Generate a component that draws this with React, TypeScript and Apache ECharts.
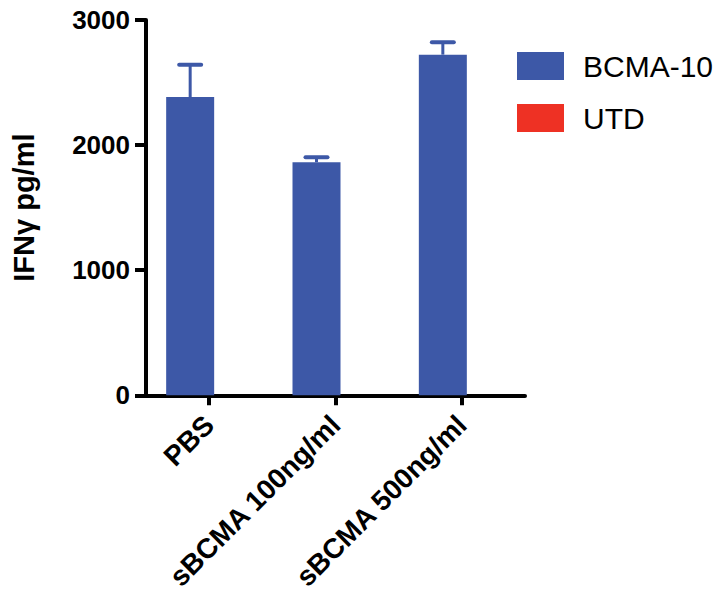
import React, { useEffect, useRef } from "react";
import * as echarts from "echarts";

const categories = ["PBS", "sBCMA 100ng/ml", "sBCMA 500ng/ml"];
const bcmaValues = [2384, 1863, 2723];
const bcmaErrors = [259, 40, 99];
const utdValues = [0, 0, 0];
const yTicks = [0, 1000, 2000, 3000];

const BLUE = "#3d58a7";
const RED = "#ee3124";
const BAR_W = 48;
const BAR_GAP_PX = -10;

export default function App() {
  const ref = useRef<HTMLDivElement>(null);
  useEffect(() => {
    if (!ref.current) return;
    const chart = echarts.init(ref.current, undefined, { renderer: "svg" });
    const errData = bcmaValues.map((v, i) => [i, v, v + bcmaErrors[i]]);
    const font = "'Liberation Sans', Arial, Helvetica, sans-serif";
    chart.setOption({
      animation: false,
      backgroundColor: "#ffffff",
      grid: { left: 146, top: 20, width: 379, height: 377, containLabel: false },
      legend: {
        orient: "vertical",
        left: 512,
        top: 46,
        itemWidth: 47,
        itemHeight: 28,
        itemGap: 22,
        icon: "rect",
        data: ["BCMA-10", "UTD"],
        textStyle: { fontFamily: font, fontSize: 30, color: "#000", lineHeight: 28, padding: [0, 0, 0, 14] },
      },
      xAxis: {
        type: "category",
        data: categories,
        axisLine: { show: true, lineStyle: { color: "#000", width: 4 } },
        axisTick: { show: true, alignWithLabel: true, length: 10, lineStyle: { color: "#000", width: 4 } },
        axisLabel: {
          rotate: 45,
          margin: 25,
          interval: 0,
          fontFamily: font,
          fontWeight: "bold",
          fontSize: 28,
          color: "#000",
        },
      },
      yAxis: {
        type: "value",
        min: 0,
        max: 3000,
        interval: 1000,
        splitLine: { show: false },
        axisLine: { show: true, lineStyle: { color: "#000", width: 4 } },
        axisTick: { show: true, length: 11, lineStyle: { color: "#000", width: 4 } },
        axisLabel: {
          margin: 16,
          fontFamily: font,
          fontWeight: "bold",
          fontSize: 26,
          color: "#000",
          formatter: (v: number) => (yTicks.includes(v) ? String(v) : ""),
        },
        name: "IFNγ pg/ml",
        nameLocation: "middle",
        nameGap: 108,
        nameRotate: 90,
        nameTextStyle: { fontFamily: font, fontWeight: "bold", fontSize: 29, color: "#000" },
      },
      series: [
        {
          name: "BCMA-10",
          type: "bar",
          data: bcmaValues,
          barWidth: BAR_W,
          barGap: `${(BAR_GAP_PX / BAR_W) * 100}%`,
          itemStyle: { color: BLUE },
        },
        {
          name: "UTD",
          type: "bar",
          data: utdValues,
          barWidth: BAR_W,
          itemStyle: { color: RED },
        },
        {
          name: "err",
          type: "custom",
          data: errData,
          encode: { x: 0, y: [1, 2] },
          z: 3,
          renderItem: (params: any, api: any) => {
            const idx = api.value(0);
            const mean = api.value(1);
            const high = api.value(2);
            const total = 2 * BAR_W + BAR_GAP_PX;
            const offset = -total / 2 + BAR_W / 2;
            const p0 = api.coord([idx, mean]);
            const p1 = api.coord([idx, high]);
            const x = p0[0] + offset;
            return {
              type: "group",
              children: [
                {
                  type: "line",
                  shape: { x1: x, y1: p0[1], x2: x, y2: p1[1] },
                  style: { stroke: BLUE, lineWidth: 3 },
                },
                {
                  type: "line",
                  shape: { x1: x - 11, y1: p1[1], x2: x + 11, y2: p1[1] },
                  style: { stroke: BLUE, lineWidth: 4, lineCap: "round" },
                },
              ],
            };
          },
        },
      ],
    });
    return () => chart.dispose();
  }, []);
  return (
    <div
      ref={ref}
      style={{ position: "fixed", left: 0, top: 0, width: 719, height: 594, background: "#fff" }}
    />
  );
}
